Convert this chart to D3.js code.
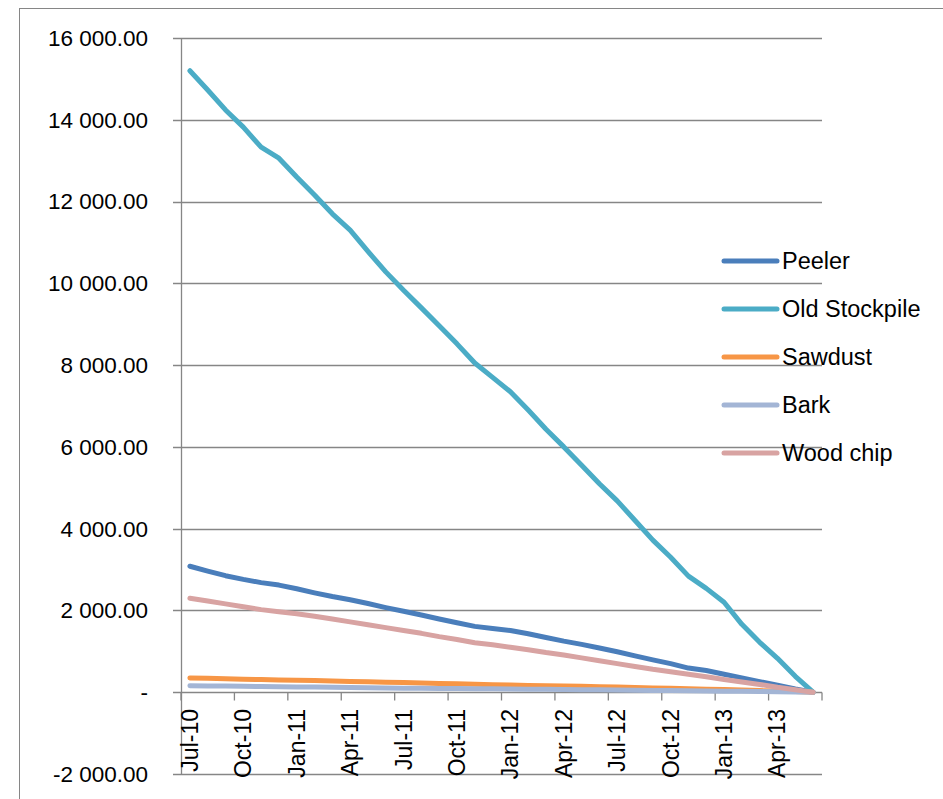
<!DOCTYPE html>
<html>
<head>
<meta charset="utf-8">
<script src="https://cdn.jsdelivr.net/npm/d3@7"></script>
<style>
  body { margin: 0; background: #fff; }
  svg { display: block; font-family: "Liberation Sans", Arial, sans-serif; }
</style>
</head>
<body>
<div id="chart"></div>
<script>
// Monthly categories Jul-10 .. Jun-13
const months = ["Jul-10","Aug-10","Sep-10","Oct-10","Nov-10","Dec-10",
  "Jan-11","Feb-11","Mar-11","Apr-11","May-11","Jun-11",
  "Jul-11","Aug-11","Sep-11","Oct-11","Nov-11","Dec-11",
  "Jan-12","Feb-12","Mar-12","Apr-12","May-12","Jun-12",
  "Jul-12","Aug-12","Sep-12","Oct-12","Nov-12","Dec-12",
  "Jan-13","Feb-13","Mar-13","Apr-13","May-13","Jun-13"];

const peeler = [3080,2960,2850,2760,2680,2620,2530,2430,2340,2260,2170,2070,
  1980,1890,1790,1700,1610,1560,1510,1430,1340,1250,1170,1080,
  990,890,790,700,590,530,440,350,260,170,80,0];
const oldStockpile = [15200,14730,14240,13820,13330,13060,12600,12160,11700,11300,10780,10280,
  9830,9400,8960,8520,8050,7700,7350,6900,6430,6000,5550,5100,
  4680,4200,3720,3300,2840,2540,2200,1660,1220,830,390,0];
const sawdust = [350,340,330,320,310,300,295,285,275,265,255,245,
  235,225,215,205,195,185,175,165,160,150,145,135,
  125,115,105,95,85,75,65,55,40,30,15,0];
const bark = [160,155,150,145,140,135,130,125,120,115,110,105,
  100,97,93,90,86,82,78,74,70,66,62,58,
  54,50,45,40,36,31,26,21,16,11,6,0];
const woodChip = [2300,2230,2160,2090,2020,1970,1920,1860,1790,1720,1650,1580,
  1510,1440,1360,1290,1210,1160,1100,1040,970,910,840,770,
  700,630,560,500,440,380,310,250,190,120,60,0];

const seriesNames = ["Peeler", "Old Stockpile", "Sawdust", "Bark", "Wood chip"];
const seriesColors = ["#4a7ebb", "#4bacc6", "#f79646", "#a3b5d5", "#d8a3a2"];
const seriesValues = [peeler, oldStockpile, sawdust, bark, woodChip];

const yTicks = [-2000, 0, 2000, 4000, 6000, 8000, 10000, 12000, 14000, 16000];

const width = 943, height = 799;
const margin = { left: 181, right: 121, top: 38, bottom: 25 };

const svg = d3.select("#chart").append("svg")
    .attr("width", width)
    .attr("height", height);

// outer chart frame
svg.append("rect")
    .attr("x", 19.5).attr("y", 8.5)
    .attr("width", 960).attr("height", 900)
    .attr("fill", "none")
    .attr("stroke", "#868686")
    .attr("stroke-width", 1);

const x = d3.scaleBand()
    .domain(months)
    .range([margin.left, width - margin.right]);

const y = d3.scaleLinear()
    .domain([-2000, 16000])
    .range([height - margin.bottom, margin.top]);

// excel-style number format: space thousands, hyphen minus, dash for zero
const fmt = v => v === 0 ? "-" : d3.format(",.2f")(v).replace(/,/g, " ").replace("\u2212", "-");

// horizontal gridlines
svg.append("g")
    .selectAll("line")
    .data(yTicks)
    .join("line")
    .attr("x1", margin.left - 8)
    .attr("x2", width - margin.right)
    .attr("y1", d => Math.round(y(d)) + 0.5)
    .attr("y2", d => Math.round(y(d)) + 0.5)
    .attr("stroke", "#868686")
    .attr("stroke-width", 1.3);

// y labels
svg.append("g")
    .selectAll("text")
    .data(yTicks)
    .join("text")
    .attr("x", 148)
    .attr("y", d => y(d))
    .attr("dy", "0.35em")
    .attr("text-anchor", "end")
    .attr("font-size", 22.5)
    .attr("fill", "#000")
    .text(fmt);

// y axis line
svg.append("line")
    .attr("x1", margin.left + 0.5).attr("x2", margin.left + 0.5)
    .attr("y1", y(16000)).attr("y2", y(-2000))
    .attr("stroke", "#868686").attr("stroke-width", 1.3);

// x axis at zero, ticks every 3 months
const y0 = Math.round(y(0)) + 0.5;
const tickIdx = d3.range(0, months.length + 1, 3);
svg.append("g")
    .selectAll("line")
    .data(tickIdx)
    .join("line")
    .attr("x1", i => x.range()[0] + i * x.step())
    .attr("x2", i => x.range()[0] + i * x.step())
    .attr("y1", y0)
    .attr("y2", y0 + 8)
    .attr("stroke", "#868686").attr("stroke-width", 1.3);

svg.append("g")
    .selectAll("text")
    .data(months.filter((m, i) => i % 3 === 0))
    .join("text")
    .attr("transform", m => `translate(${x(m) + x.bandwidth() / 2 + 8},709) rotate(-90)`)
    .attr("text-anchor", "end")
    .attr("font-size", 23)
    .attr("fill", "#000")
    .text(m => m);

// series lines
const line = d3.line()
    .x((d, i) => x(months[i]) + x.bandwidth() / 2)
    .y(d => y(d));

svg.append("g")
    .selectAll("path")
    .data(seriesValues)
    .join("path")
    .attr("d", line)
    .attr("fill", "none")
    .attr("stroke", (d, i) => seriesColors[i])
    .attr("stroke-width", 5)
    .attr("stroke-linejoin", "round")
    .attr("stroke-linecap", "round");

// legend
const legend = svg.append("g")
    .selectAll("g")
    .data(seriesNames)
    .join("g")
    .attr("transform", (d, i) => `translate(722,${261 + i * 48})`);

legend.append("line")
    .attr("x1", 2).attr("x2", 55)
    .attr("stroke", (d, i) => seriesColors[i])
    .attr("stroke-width", 5)
    .attr("stroke-linecap", "round");

legend.append("text")
    .attr("x", 60)
    .attr("dy", "0.35em")
    .attr("font-size", 23.5)
    .attr("fill", "#000")
    .text(d => d);
</script>
</body>
</html>
